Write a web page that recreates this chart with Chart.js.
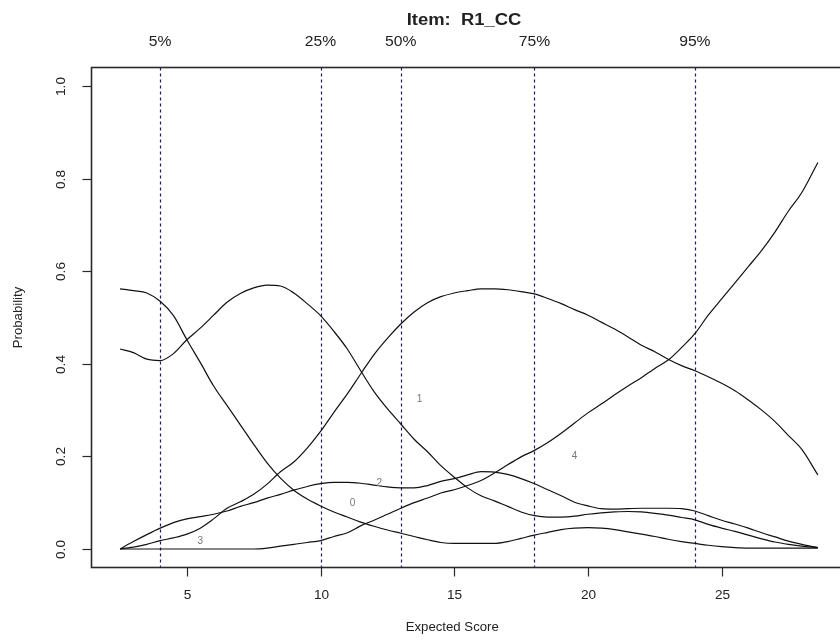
<!DOCTYPE html>
<html>
<head>
<meta charset="utf-8">
<script src="https://cdn.jsdelivr.net/npm/chart.js@4.4.1/dist/chart.umd.min.js"></script>
<style>
  html, body { margin: 0; padding: 0; background: #fff; overflow: hidden; }
  #wrap { width: 848px; height: 641px; }
</style>
</head>
<body>
<div id="wrap"><canvas id="occ" width="848" height="641"></canvas></div>
<script>
// expected score grid
const expScore = [2.5, 3, 3.5, 4, 4.5, 5, 5.5, 6, 6.5, 7,
  7.5, 8, 8.5, 9, 9.5, 10, 10.5, 11, 11.5, 12,
  12.5, 13, 13.5, 14, 14.5, 15, 15.5, 16, 16.5, 17,
  17.5, 18, 18.5, 19, 19.5, 20, 20.5, 21, 21.5, 22,
  22.5, 23, 23.5, 24, 24.5, 25, 25.5, 26, 26.5, 27,
  27.5, 28, 28.6];

// option curves
const prob0 = [0.562, 0.558, 0.553, 0.535, 0.504, 0.452, 0.403, 0.352, 0.31, 0.268,
  0.226, 0.186, 0.153, 0.127, 0.108, 0.093, 0.08, 0.069, 0.058, 0.049,
  0.041, 0.034, 0.027, 0.02, 0.014, 0.012, 0.012, 0.012, 0.012, 0.016,
  0.023, 0.03, 0.036, 0.042, 0.045, 0.046, 0.045, 0.042, 0.037, 0.032,
  0.027, 0.021, 0.016, 0.012, 0.008, 0.005, 0.003, 0.002, 0.002, 0.002,
  0.002, 0.002, 0.002];
const prob1 = [0.432, 0.424, 0.41, 0.407, 0.422, 0.452, 0.477, 0.505, 0.533, 0.552,
  0.564, 0.57, 0.568, 0.553, 0.53, 0.504, 0.47, 0.432, 0.385, 0.34,
  0.303, 0.27, 0.237, 0.21, 0.18, 0.155, 0.132, 0.115, 0.104, 0.092,
  0.08, 0.072, 0.069, 0.069, 0.071, 0.075, 0.078, 0.08, 0.081, 0.08,
  0.077, 0.073, 0.068, 0.063, 0.053, 0.045, 0.038, 0.03, 0.022, 0.015,
  0.01, 0.006, 0.003];
const prob2 = [0, 0.004, 0.01, 0.018, 0.024, 0.032, 0.045, 0.065, 0.088, 0.102,
  0.118, 0.14, 0.167, 0.188, 0.218, 0.254, 0.295, 0.335, 0.378, 0.42,
  0.455, 0.486, 0.512, 0.532, 0.545, 0.553, 0.558, 0.562, 0.562, 0.56,
  0.556, 0.551, 0.541, 0.53, 0.517, 0.505, 0.49, 0.475, 0.458, 0.44,
  0.426, 0.41, 0.396, 0.385, 0.372, 0.358, 0.342, 0.322, 0.3, 0.275,
  0.245, 0.215, 0.16];
const prob3 = [0, 0.016, 0.031, 0.045, 0.057, 0.065, 0.07, 0.075, 0.082, 0.092,
  0.1, 0.11, 0.118, 0.127, 0.135, 0.141, 0.144, 0.144, 0.142, 0.138,
  0.134, 0.132, 0.132, 0.137, 0.146, 0.152, 0.16, 0.167, 0.166, 0.161,
  0.152, 0.141, 0.128, 0.115, 0.101, 0.093, 0.087, 0.086, 0.087, 0.088,
  0.088, 0.088, 0.087, 0.082, 0.072, 0.062, 0.054, 0.045, 0.035, 0.026,
  0.017, 0.01, 0.003];
const prob4 = [0, 0, 0, 0, 0, 0, 0, 0, 0, 0,
  0, 0.002, 0.006, 0.01, 0.014, 0.018, 0.027, 0.035, 0.05, 0.062,
  0.075, 0.088, 0.1, 0.11, 0.121, 0.128, 0.137, 0.148, 0.164, 0.182,
  0.199, 0.213, 0.23, 0.25, 0.272, 0.294, 0.313, 0.333, 0.352, 0.37,
  0.39, 0.408, 0.435, 0.465, 0.505, 0.54, 0.575, 0.61, 0.645, 0.685,
  0.73, 0.77, 0.835];

// axes and annotations
const xTicks = [5, 10, 15, 20, 25];
const yTicks = [0, 0.2, 0.4, 0.6, 0.8, 1.0];
const pctScores = [4, 10, 13, 18, 24];
const pctLabels = ['5%', '25%', '50%', '75%', '95%'];
const optLabels = ['0', '1', '2', '3', '4'];
const optLabelX = [11.2, 13.7, 12.2, 5.5, 19.5];
const optLabelY = [0.098, 0.323, 0.143, 0.016, 0.2];

const series = [prob0, prob1, prob2, prob3, prob4];

// 글자 가로 늘려 그리기
function stretchText(ctx, str, x, y, font, sx, rot) {
  ctx.save();
  ctx.font = font;
  ctx.translate(x, y);
  if (rot) ctx.rotate(rot);
  ctx.scale(sx, 1);
  ctx.fillText(str, 0, 0);
  ctx.restore();
}

const rFrame = {
  id: 'rFrame',
  beforeDatasetsDraw(chart) {
    const { ctx, chartArea: a, scales: { x } } = chart;
    ctx.save();
    ctx.strokeStyle = '#1a1a6e';
    ctx.lineWidth = 1.2;
    ctx.setLineDash([3, 3]);
    pctScores.forEach(v => {
      const px = Math.round(x.getPixelForValue(v)) + 0.5;
      ctx.beginPath();
      ctx.moveTo(px, a.top);
      ctx.lineTo(px, a.bottom);
      ctx.stroke();
    });
    ctx.restore();
  },
  afterDraw(chart) {
    const { ctx, chartArea: a, scales: { x, y } } = chart;
    const sans = '"Liberation Sans", Arial, sans-serif';
    ctx.save();

    // box
    ctx.strokeStyle = '#2a2a2a';
    ctx.lineWidth = 1.6;
    ctx.strokeRect(a.left, a.top, a.right - a.left, a.bottom - a.top);

    ctx.fillStyle = '#222';
    ctx.lineWidth = 1.2;
    ctx.textAlign = 'center';
    ctx.textBaseline = 'middle';

    // x axis
    xTicks.forEach(v => {
      const px = Math.round(x.getPixelForValue(v)) + 0.5;
      ctx.beginPath();
      ctx.moveTo(px, a.bottom);
      ctx.lineTo(px, a.bottom + 9);
      ctx.stroke();
      stretchText(ctx, String(v), px, a.bottom + 28, '13px ' + sans, 1.05);
    });

    // y axis
    yTicks.forEach(v => {
      const py = Math.round(y.getPixelForValue(v)) + 0.5;
      ctx.beginPath();
      ctx.moveTo(a.left, py);
      ctx.lineTo(a.left - 9, py);
      ctx.stroke();
      stretchText(ctx, v.toFixed(1), a.left - 30, py, '13px ' + sans, 1.05, -Math.PI / 2);
    });

    // axis titles
    stretchText(ctx, 'Expected Score', (x.getPixelForValue(5) + x.getPixelForValue(25)) / 2 - 2, 628, '12px ' + sans, 1.1);
    stretchText(ctx, 'Probability', 19, y.getPixelForValue(0.5), '12px ' + sans, 1.1, -Math.PI / 2);

    // percentile labels and title
    pctScores.forEach((v, i) => {
      stretchText(ctx, pctLabels[i], x.getPixelForValue(v), 42, '14px ' + sans, 1.12);
    });
    stretchText(ctx, 'Item:  R1_CC', 464, 21, 'bold 16px ' + sans, 1.15);

    // option labels
    ctx.fillStyle = '#777';
    optLabels.forEach((s, i) => {
      stretchText(ctx, s, x.getPixelForValue(optLabelX[i]), y.getPixelForValue(optLabelY[i]), '10px ' + sans, 1);
    });
    ctx.restore();
  }
};

new Chart(document.getElementById('occ'), {
  type: 'line',
  data: {
    datasets: series.map((vals, i) => ({
      label: optLabels[i],
      data: expScore.map((s, j) => ({ x: s, y: vals[j] })),
      borderColor: '#111',
      borderWidth: 1.2,
      pointRadius: 0,
      fill: false,
      cubicInterpolationMode: 'monotone'
    }))
  },
  options: {
    responsive: false,
    animation: false,
    devicePixelRatio: 1,
    layout: { padding: { left: 91.5, right: 1, top: 67.5, bottom: 73.5 } },
    plugins: { legend: { display: false }, tooltip: { enabled: false }, title: { display: false } },
    scales: {
      x: { type: 'linear', min: 1.433, max: 29.69, display: false },
      y: { type: 'linear', min: -0.04, max: 1.04, display: false }
    }
  },
  plugins: [rFrame]
});
</script>
</body>
</html>
